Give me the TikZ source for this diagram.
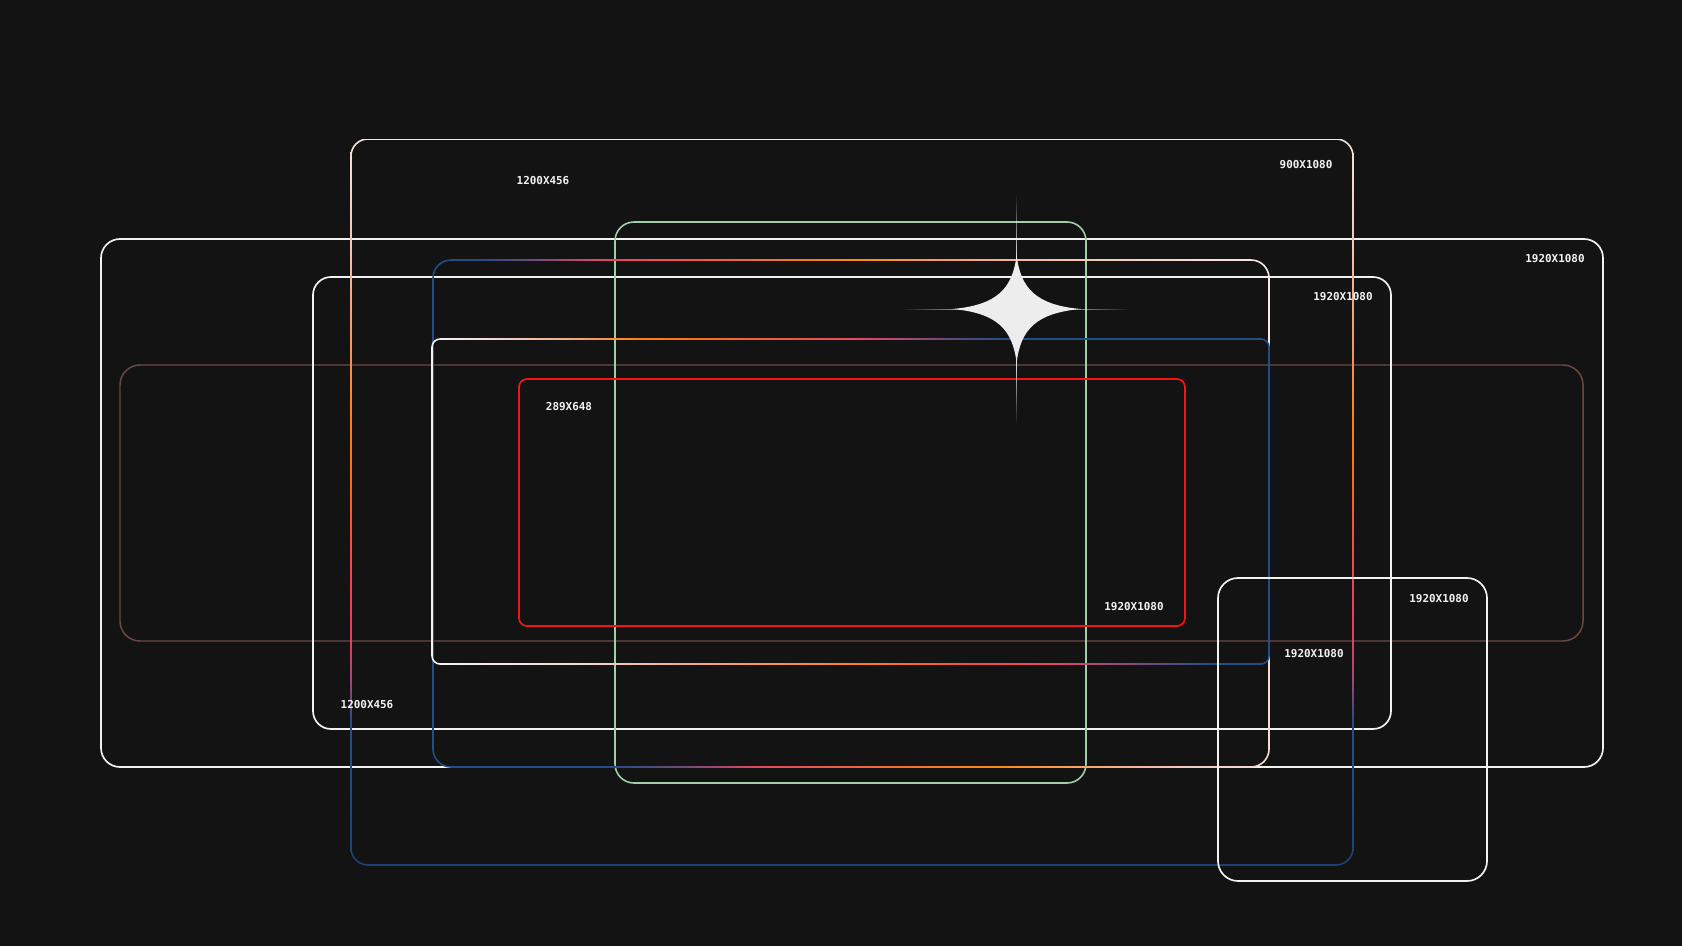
\documentclass[tikz,border=0pt]{standalone}
\usepackage{fontspec}
\newfontfamily\lblfont{DejaVu Sans Mono}
\definecolor{bg}{HTML}{131313}
\definecolor{wl}{HTML}{F2F2F2}
\definecolor{brownl}{HTML}{6B4845}
\definecolor{greenl}{HTML}{9FD0A8}
\definecolor{redl}{HTML}{F41414}
\definecolor{starc}{HTML}{EDEDED}
% gradient colours
\definecolor{bl}{HTML}{1F4F86}
\definecolor{blb}{HTML}{1C4274}
\definecolor{blc}{HTML}{244D84}
\definecolor{bld}{HTML}{2E4A82}
\definecolor{pua}{HTML}{6A4A7E}
\definecolor{pub}{HTML}{7A4A7A}
\definecolor{puc}{HTML}{A04A78}
\definecolor{pud}{HTML}{4A4A80}
\definecolor{pue}{HTML}{8A4A7A}
\definecolor{puf}{HTML}{9A4A78}
\definecolor{pka}{HTML}{D24868}
\definecolor{rda}{HTML}{EE4A52}
\definecolor{rdb}{HTML}{EA4858}
\definecolor{rdc}{HTML}{E84860}
\definecolor{rdd}{HTML}{E04064}
\definecolor{rde}{HTML}{EC4058}
\definecolor{ora}{HTML}{F46A32}
\definecolor{orb}{HTML}{FF8A14}
\definecolor{orc}{HTML}{F47030}
\definecolor{ord}{HTML}{F86030}
\definecolor{ore}{HTML}{FF8012}
\definecolor{orf}{HTML}{F45040}
\definecolor{org}{HTML}{FF7012}
\definecolor{orh}{HTML}{F69050}
\definecolor{saa}{HTML}{F6A070}
\definecolor{sab}{HTML}{F6AA80}
\definecolor{sac}{HTML}{F4A070}
\definecolor{sad}{HTML}{F4A880}
\definecolor{sae}{HTML}{F2A880}
\definecolor{ppa}{HTML}{F3BCA6}
\definecolor{ppb}{HTML}{F2D2C8}
\definecolor{ppc}{HTML}{F8E8E4}
\definecolor{ppd}{HTML}{F2C8C0}
\definecolor{ppe}{HTML}{F6DCD8}
\definecolor{ppf}{HTML}{F2D2CA}
\definecolor{ppg}{HTML}{F0D8D4}
\definecolor{pph}{HTML}{F2C8BC}
\definecolor{ppi}{HTML}{F6E2DC}
\definecolor{wha}{HTML}{F4F4F4}
% shadings (central 25bp..75bp mapped onto the path)
\pgfdeclarehorizontalshading{rfourtop}{100bp}{color(0bp)=(bl); color(25bp)=(bl); color(27.8bp)=(blc); color(30.8bp)=(pua); color(34.4bp)=(pka); color(37.4bp)=(rda); color(44bp)=(ora); color(50.4bp)=(orb); color(56.5bp)=(saa); color(60.7bp)=(ppa); color(66.7bp)=(ppb); color(75bp)=(ppc); color(100bp)=(ppc)}
\pgfdeclarehorizontalshading{rfourbot}{100bp}{color(0bp)=(bl); color(25bp)=(bl); color(35.6bp)=(bl); color(40.4bp)=(pub); color(44.6bp)=(rdb); color(52.9bp)=(orc); color(58.9bp)=(orb); color(64.9bp)=(sab); color(69.7bp)=(ppd); color(75bp)=(ppe); color(100bp)=(ppe)}
\pgfdeclarehorizontalshading{rfivetop}{100bp}{color(0bp)=(wha); color(25bp)=(wha); color(29.2bp)=(ppf); color(34.1bp)=(sac); color(37.3bp)=(ore); color(43.9bp)=(ord); color(50.4bp)=(rdc); color(53.7bp)=(puc); color(56.9bp)=(pud); color(59.5bp)=(bl); color(75bp)=(bl); color(100bp)=(bl)}
\pgfdeclarehorizontalshading{rfivebot}{100bp}{color(0bp)=(wha); color(25bp)=(wha); color(34.1bp)=(ppg); color(40.6bp)=(sad); color(50.4bp)=(ore); color(56.9bp)=(orf); color(61.8bp)=(rdc); color(66.7bp)=(pue); color(71.6bp)=(bl); color(75bp)=(bl); color(100bp)=(bl)}
\pgfdeclareverticalshading{rtwo}{100bp}{color(0bp)=(blb); color(25bp)=(blb); color(32.2bp)=(bl); color(35bp)=(bld); color(37.7bp)=(puf); color(40.5bp)=(rdd); color(43.3bp)=(rde); color(47.4bp)=(orf); color(52.2bp)=(org); color(55.6bp)=(ore); color(59.4bp)=(orh); color(63.9bp)=(sae); color(68bp)=(pph); color(75bp)=(ppi); color(100bp)=(ppi)}
% ring-shaped clip of a rounded rectangle outline: x1,y1,x2,y2,radius(pt)
\newcommand\ringclip[5]{%
  \clip[rounded corners=#5pt+0.6pt] (#1-0.8,#2-0.8) -- (#3+0.8,#2-0.8) -- (#3+0.8,#4+0.8) -- (#1-0.8,#4+0.8) -- cycle
    [rounded corners=#5pt-0.6pt] (#1+0.8,#2+0.8) -- (#1+0.8,#4-0.8) -- (#3-0.8,#4-0.8) -- (#3-0.8,#2+0.8) -- cycle;}
\tikzset{
  wbox/.style={draw=wl, line width=1.25pt},
  brownbox/.style={draw=brownl, line width=1.1pt},
  greenbox/.style={draw=greenl, line width=1.2pt},
  redbox/.style={draw=redl, line width=1.3pt},
  lbl/.style={text=wl, font=\lblfont\bfseries\fontsize{8.2}{9}\selectfont, inner sep=0pt},
}
\begin{document}
\begin{tikzpicture}[x=0.75pt, y=-0.75pt]
\useasboundingbox (0,0) rectangle (1682,946);
\fill[bg] (0,0) rectangle (1682,946);

% brown wide box
\draw[brownbox, rounded corners=15pt] (120,365) rectangle (1583,641);
% big white boxes
\draw[wbox, rounded corners=14.25pt] (101,239) rectangle (1603,767);
\draw[wbox, rounded corners=13.5pt] (313,277) rectangle (1391,729);

% 900x1080 gradient box (vertical gradient)
\begin{scope}
  \ringclip{351}{139}{1353}{865}{12.75}
  \shade[shading=rtwo] (345,139) rectangle (1359,865);
\end{scope}

% green box
\draw[greenbox, rounded corners=14.25pt] (615,222) rectangle (1086,783);

% blue -> pink gradient box
\begin{scope}
  \ringclip{433}{260}{1269}{767}{13.5}
  \shade[shading=rfourtop] (433,252) rectangle (1269,513);
  \shade[shading=rfourbot] (433,513) rectangle (1269,775);
  \fill[bl] (425,252) rectangle (433,775);
  \fill[ppc] (1269,252) rectangle (1277,513);
  \fill[ppe] (1269,513) rectangle (1277,775);
\end{scope}

% white -> blue gradient box
\begin{scope}
  \ringclip{432}{339}{1269}{664}{6}
  \shade[shading=rfivetop] (432,331) rectangle (1269,501);
  \shade[shading=rfivebot] (432,501) rectangle (1269,672);
  \fill[wha] (424,331) rectangle (432,672);
  \fill[bl] (1269,331) rectangle (1277,672);
\end{scope}

% red box
\draw[redbox, rounded corners=6pt] (519,379) rectangle (1185,626);
% bottom-right white box
\draw[wbox, rounded corners=15pt] (1218,578) rectangle (1487,881);

% sparkle
\foreach \i [evaluate=\i as \op using \i/24] in {0,...,23}{
  \fill[white, opacity=\op] (1016,{193+\i*3}) rectangle (1017.2,{193+(\i+1)*3});
  \fill[white, opacity=\op] (1016,{427-\i*3}) rectangle (1017.2,{427-(\i+1)*3});
  \fill[white, opacity=0.6*\op] ({900+\i*2.6},308.5) rectangle ({900+(\i+1)*2.6},309.5);
  \fill[white, opacity=0.6*\op] ({1133-\i*2.6},308.5) rectangle ({1133-(\i+1)*2.6},309.5);
}
\fill[starc, shift={(1016.6,309)}] (0,-54) .. controls (4,-20) and (20,-4) .. (64,0)
  .. controls (20,4) and (4,20) .. (0,54)
  .. controls (-4,20) and (-20,4) .. (-64,0)
  .. controls (-20,-4) and (-4,-20) .. (0,-54) -- cycle;

% labels
\node[lbl] (la) at (543,181) {1200X456};
\node[lbl] (lb) at (1306,165) {900X1080};
\node[lbl] (lc) at (1555,259) {1920X1080};
\node[lbl] (ld) at (1343,297) {1920X1080};
\node[lbl] (le) at (569,407) {289X648};
\node[lbl] (lf) at (1134,607) {1920X1080};
\node[lbl] (lg) at (1439,599) {1920X1080};
\node[lbl] (lh) at (1314,654) {1920X1080};
\node[lbl] (li) at (367,705) {1200X456};
\end{tikzpicture}
\end{document}
